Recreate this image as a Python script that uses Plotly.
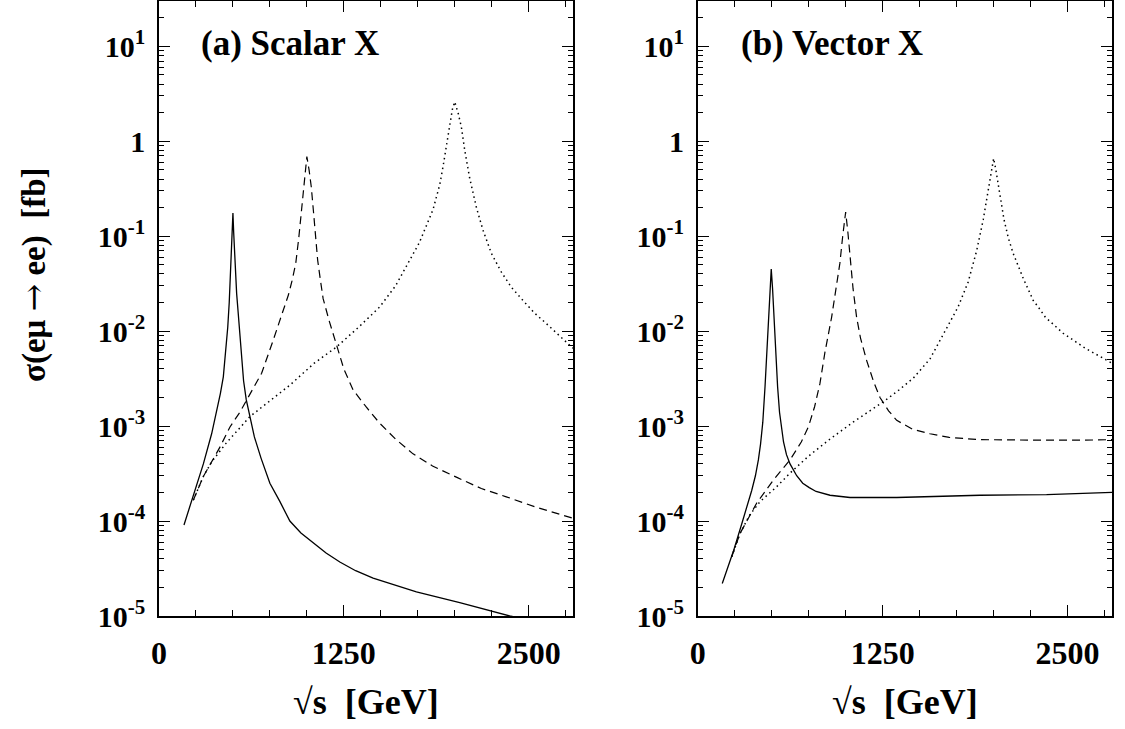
import plotly.graph_objects as go
import numpy as np

# ---------------- data ----------------
# Panel (a): Scalar X, masses 500 / 1000 / 2000 GeV
a_m500_x = [169, 232, 300, 356, 390, 415, 435, 452, 465, 475, 484, 490, 495, 500, 505, 510, 516, 525, 535,
            547, 560, 572, 590, 610, 645, 690, 750, 818, 885, 960, 1043, 1130, 1223, 1330, 1448, 1600,
            1741, 2034, 2372, 2800]
a_m500_y = [9.1e-5, 1.87e-4, 4.0e-4, 8.3e-4, 1.4e-3, 2.2e-3, 3.3e-3, 6.0e-3, 1.1e-2, 2.0e-2, 4.4e-2, 7.0e-2,
            1.1e-1, 1.75e-1, 1.1e-1, 7.0e-2, 4.4e-2, 2.5e-2, 1.6e-2,
            9.5e-3, 5.0e-3, 3.0e-3, 1.9e-3, 1.35e-3, 7.7e-4, 4.6e-4, 2.5e-4, 1.6e-4, 1.0e-4, 7.5e-5,
            5.9e-5, 4.6e-5, 3.7e-5, 3.0e-5, 2.5e-5, 2.1e-5, 1.8e-5, 1.38e-5, 1.0e-5, 7.5e-6]

a_m1000_x = [232, 300, 412, 480, 547, 637, 694, 772, 840, 875, 900, 925, 945, 960, 972, 986, 1000, 1015,
             1030, 1045, 1060, 1073, 1090, 1110, 1150, 1200, 1250, 1313, 1400, 1493, 1600, 1718, 1850,
             2011, 2180, 2349, 2550, 2800]
a_m1000_y = [1.66e-4, 2.95e-4, 6.0e-4, 9.8e-4, 1.4e-3, 2.5e-3, 3.6e-3, 8.0e-3, 1.6e-2, 2.4e-2, 3.4e-2,
             5.2e-2, 9.5e-2, 1.6e-1, 2.8e-1, 4.7e-1, 6.9e-1, 5.0e-1, 3.3e-1,
             1.8e-1, 9.5e-2, 5.6e-2, 3.6e-2, 2.2e-2, 1.3e-2, 7.4e-3, 4.0e-3, 2.4e-3, 1.6e-3, 1.07e-3,
             7.3e-4, 5.1e-4, 3.8e-4, 2.9e-4, 2.2e-4, 1.8e-4, 1.4e-4, 1.07e-4]

a_m2000_x = [232, 300, 356, 450, 615, 795, 885, 1050, 1200, 1350, 1493, 1600, 1696, 1760, 1853, 1899, 1921,
             1944, 1966, 1984, 2000, 2024, 2045, 2068, 2101, 2147, 2191, 2248, 2315, 2383, 2462, 2540,
             2620, 2710, 2800]
a_m2000_y = [1.66e-4, 2.95e-4, 4.2e-4, 6.5e-4, 1.26e-3, 2.1e-3, 2.7e-3, 4.6e-3, 6.8e-3, 1.1e-2, 1.8e-2,
             3.0e-2, 5.6e-2, 8.5e-2, 1.9e-1, 3.5e-1, 5.4e-1,
             8.7e-1, 1.41, 2.16, 2.6, 1.96, 1.41, 8.0e-1, 4.1e-1, 2.0e-1, 1.16e-1, 6.6e-2, 4.2e-2, 2.9e-2,
             2.1e-2, 1.55e-2, 1.2e-2, 8.8e-3, 6.6e-3]

# Panel (b): Vector X, masses 500 / 1000 / 2000 GeV
b_m500_x = [166, 241, 300, 340, 365, 390, 410, 425, 440, 455, 467, 477, 488, 497, 506, 515, 525, 540, 553,
            565, 580, 600, 624, 669, 710, 754, 800, 894, 1029, 1345, 1907, 2358, 2800]
b_m500_y = [2.2e-5, 4.8e-5, 9.6e-5, 1.5e-4, 2.1e-4, 3.0e-4, 4.4e-4, 6.5e-4, 1.1e-3, 2.6e-3, 6.0e-3, 1.4e-2,
            2.8e-2, 4.5e-2, 2.8e-2, 1.4e-2, 6.0e-3, 2.6e-3, 1.4e-3,
            9.5e-4, 6.8e-4, 5.0e-4, 4.0e-4, 3.0e-4, 2.5e-4, 2.25e-4, 2.05e-4, 1.87e-4, 1.77e-4, 1.77e-4,
            1.87e-4, 1.9e-4, 2.0e-4]

b_m1000_x = [230, 286, 399, 511, 624, 700, 750, 790, 826, 860, 905, 935, 961, 980, 1000, 1015, 1030, 1050,
             1074, 1100, 1142, 1190, 1232, 1290, 1345, 1450, 1570, 1700, 1907, 2150, 2358, 2600, 2800]
b_m1000_y = [4.2e-5, 7.4e-5, 1.55e-4, 2.7e-4, 4.4e-4, 6.8e-4, 1.0e-3, 1.6e-3, 2.8e-3, 6.0e-3, 1.4e-2, 2.8e-2,
             5.2e-2, 1.0e-1, 1.8e-1, 1.1e-1, 6.0e-2, 2.8e-2,
             1.4e-2, 8.5e-3, 4.9e-3, 2.9e-3, 2.0e-3, 1.45e-3, 1.15e-3, 9.3e-4, 8.3e-4, 7.6e-4, 7.2e-4,
             7.1e-4, 7.1e-4, 7.1e-4, 7.2e-4]

b_m2000_x = [230, 286, 350, 421, 534, 624, 747, 894, 1050, 1265, 1360, 1457, 1570, 1682, 1760, 1828, 1885,
             1930, 1960, 1985, 2000, 2015, 2040, 2070, 2100, 2132, 2200, 2268, 2301, 2350, 2470, 2620, 2800]
b_m2000_y = [4.2e-5, 7.4e-5, 1.15e-4, 1.6e-4, 2.3e-4, 3.2e-4, 4.8e-4, 7.3e-4, 1.1e-3, 1.85e-3, 2.4e-3,
             3.2e-3, 5.1e-3, 1.07e-2, 1.8e-2, 3.3e-2, 7.0e-2,
             1.5e-1, 2.8e-1, 5.0e-1, 6.6e-1, 5.0e-1, 2.8e-1, 1.5e-1, 9.5e-2, 6.6e-2, 3.6e-2, 2.1e-2,
             1.8e-2, 1.4e-2, 9.5e-3, 6.6e-3, 4.6e-3]

y_tickvals = [1e-5, 1e-4, 1e-3, 1e-2, 1e-1, 1, 10]
y_ticktext = ["10<sup>-5</sup>", "10<sup>-4</sup>", "10<sup>-3</sup>", "10<sup>-2</sup>",
              "10<sup>-1</sup>", "1", "10<sup>1</sup>"]
x_tickvals = [0, 1250, 2500]
x_ticktext = ["0", "1250", "2500"]
panel_labels = ["(a) Scalar X", "(b) Vector X"]
x_title = "√s\u00a0\u00a0[GeV]"
y_title = ("σ(eμ\u00a0<span style=\"font-family:DejaVu Serif;font-weight:normal\">→</span>"
           "\u00a0ee)\u00a0\u00a0[fb]")

# ---------------- figure ----------------
W, H = 1125, 729
FONT = "Liberation Serif, Times New Roman, serif"

fig = go.Figure()

styles = [dict(color="black", width=1.3, dash="solid"),
          dict(color="black", width=1.2, dash="8px,5px"),
          dict(color="black", width=1.5, dash="1.5px,3.5px")]

panels = [
    ("x", "y", [(a_m500_x, a_m500_y), (a_m1000_x, a_m1000_y), (a_m2000_x, a_m2000_y)]),
    ("x2", "y2", [(b_m500_x, b_m500_y), (b_m1000_x, b_m1000_y), (b_m2000_x, b_m2000_y)]),
]
for xa, ya, series in panels:
    for (xs, ys), st in zip(series, styles):
        fig.add_trace(go.Scatter(x=xs, y=ys, mode="lines", line=st, xaxis=xa, yaxis=ya,
                                 showlegend=False, hoverinfo="skip"))

minor_y = [m * 10.0 ** e for e in range(-5, 2) for m in range(2, 10)]

def xaxis_cfg(domain):
    return dict(domain=domain, range=[0, 2800], tickmode="array", tickvals=x_tickvals,
                ticktext=x_ticktext, ticks="inside", ticklen=11, tickwidth=1.2, tickcolor="black",
                minor=dict(tickmode="array", tickvals=list(range(250, 2800, 250)), ticks="inside",
                           ticklen=6, tickwidth=1.1, tickcolor="black", showgrid=False),
                showline=True, linewidth=1.6, linecolor="black", mirror="ticks",
                showgrid=False, zeroline=False, automargin=False,
                tickfont=dict(family=FONT, size=32, color="black", weight="bold"),
                ticklabelstandoff=8)

def yaxis_cfg(anchor):
    return dict(domain=[113 / H, 728 / H], type="log", range=[-5, np.log10(30)], anchor=anchor,
                tickmode="array", tickvals=y_tickvals, ticktext=y_ticktext,
                ticks="inside", ticklen=11, tickwidth=1.2, tickcolor="black",
                minor=dict(tickmode="array", tickvals=minor_y, ticks="inside", ticklen=5,
                           tickwidth=1.1, tickcolor="black", showgrid=False),
                showline=True, linewidth=1.6, linecolor="black", mirror="ticks",
                showgrid=False, zeroline=False, automargin=False,
                tickfont=dict(family=FONT, size=30, color="black", weight="bold"),
                ticklabelstandoff=6)

fig.update_layout(
    width=W, height=H, paper_bgcolor="white", plot_bgcolor="white",
    margin=dict(l=0, r=0, t=0, b=0, autoexpand=False),
    xaxis=dict(**xaxis_cfg([159 / W, 573 / W]), anchor="y"),
    yaxis=yaxis_cfg("x"),
    xaxis2=dict(**xaxis_cfg([697.7 / W, 1112 / W]), anchor="y2"),
    yaxis2=yaxis_cfg("x2"),
)

ann = []
for lbl, cx in zip(panel_labels, [290, 832]):
    ann.append(dict(text=lbl, x=cx / W, y=1 - 43 / H, xref="paper", yref="paper", showarrow=False,
                    xanchor="center", yanchor="middle",
                    font=dict(family=FONT, size=35, color="black", weight="bold")))
for cx in [366, 905]:
    ann.append(dict(text=x_title, x=cx / W, y=1 - 702 / H, xref="paper", yref="paper", showarrow=False,
                    xanchor="center", yanchor="middle",
                    font=dict(family=FONT, size=36, color="black", weight="bold")))
ann.append(dict(text=y_title, x=33 / W, y=1 - 275 / H, xref="paper", yref="paper", showarrow=False,
                xanchor="center", yanchor="middle", textangle=-90,
                font=dict(family=FONT, size=33, color="black", weight="bold")))
fig.update_layout(annotations=ann)

fig.write_html("out.html", config={"displayModeBar": False},
               post_script="document.body.style.margin='0px';")
